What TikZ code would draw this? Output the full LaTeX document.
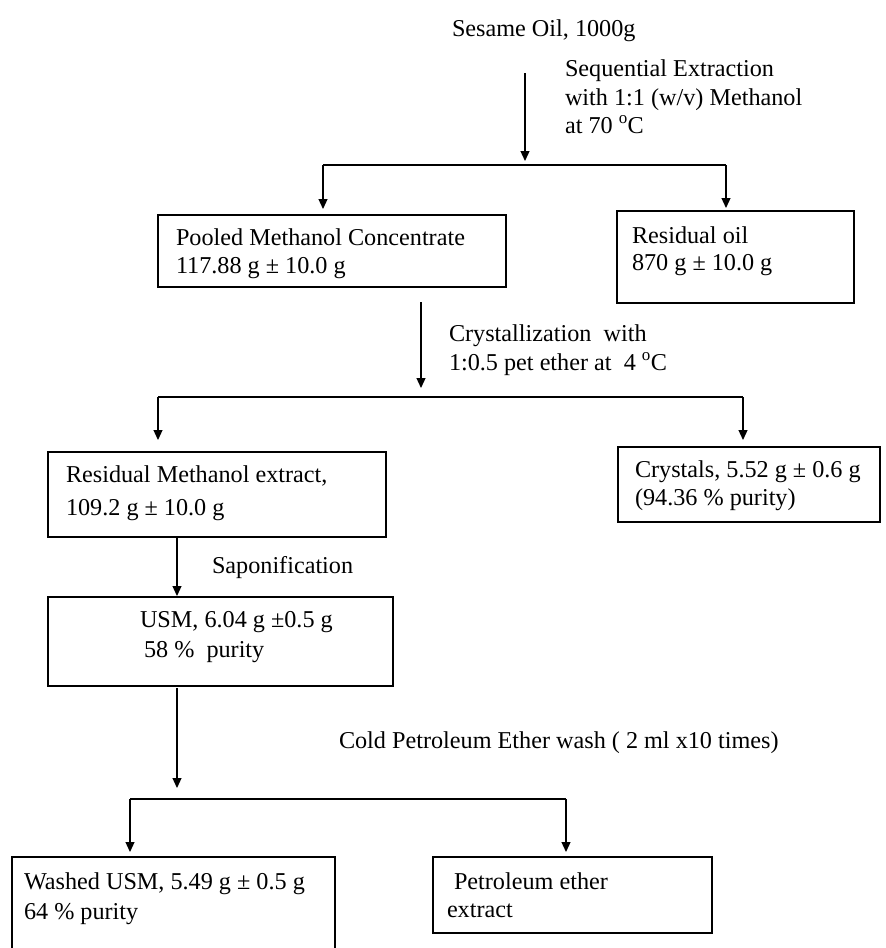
\documentclass[tikz,border=0pt]{standalone}
\usepackage{fontspec}
\setmainfont{Liberation Serif}
\usetikzlibrary{arrows.meta}
\begin{document}
\begin{tikzpicture}[x=1pt,y=-1pt,
  box/.style={draw, line width=1.4pt, inner sep=0pt, outer sep=0pt, anchor=north west},
  txt/.style={anchor=base west, inner sep=0pt, outer sep=0pt, font=\fontsize{24.2}{28}\selectfont},
  ln/.style={line width=1.2pt},
  arr/.style={ln, -{Triangle[length=10pt,width=9pt]}}]
\useasboundingbox (0,0) rectangle (886,948);
\clip (0,0) rectangle (886,948);
\fill[white] (0,0) rectangle (886,948);

% boxes
\node[box, minimum width=348pt, minimum height=72pt] (pooled) at (158,215) {};
\node[box, minimum width=237pt, minimum height=92pt] (resoil) at (617,211) {};
\node[box, minimum width=338pt, minimum height=85pt] (resmeth) at (48,452) {};
\node[box, minimum width=262pt, minimum height=75pt] (cryst) at (618,447) {};
\node[box, minimum width=345pt, minimum height=89pt] (usm) at (48,597) {};
\node[box, minimum width=323pt, minimum height=110pt] (washed) at (12,857) {};
\node[box, minimum width=279pt, minimum height=76pt] (pet) at (433,857) {};

% texts
\node[txt] (sesame) at (452,36) {Sesame Oil, 1000g};
\node[txt] (seqA) at (565,76) {Sequential Extraction};
\node[txt] (seqB) at (565,105) {with 1:1 (w/v) Methanol};
\node[txt] (seqC) at (565,133) {at 70 \textsuperscript{o}C};
\node[txt] (pooledA) at (176,245) {Pooled Methanol Concentrate};
\node[txt] (pooledB) at (176,273) {117.88 g ± 10.0 g};
\node[txt] (resoilA) at (632,243) {Residual oil};
\node[txt] (resoilB) at (632,270) {870 g ± 10.0 g};
\node[txt] (crysA) at (449,341) {Crystallization\ \ with};
\node[txt] (crysB) at (449,370) {1:0.5 pet ether at\ \ 4 \textsuperscript{o}C};
\node[txt] (resmethA) at (66,482) {Residual Methanol extract,};
\node[txt] (resmethB) at (66,515) {109.2 g ± 10.0 g};
\node[txt] (crystA) at (635,477) {Crystals, 5.52 g ± 0.6 g};
\node[txt] (crystB) at (635,505) {(94.36 \% purity)};
\node[txt] (sapon) at (212,573) {Saponification};
\node[txt] (usmA) at (140,627) {USM, 6.04 g ±0.5 g};
\node[txt] (usmB) at (144,657) {58 \%\ \ purity};
\node[txt] (cold) at (339,748) {Cold Petroleum Ether wash ( 2 ml x10 times)};
\node[txt] (washedA) at (24,889) {Washed USM, 5.49 g ± 0.5 g};
\node[txt] (washedB) at (24,919) {64 \% purity};
\node[txt] (petA) at (454,889) {Petroleum ether};
\node[txt] (petB) at (447,917) {extract};

% connectors: level 1
\coordinate (a1s) at (525,73);
\coordinate (j1) at (525,165);
\coordinate (j1L) at (323,165);
\coordinate (j1R) at (726,165);
\draw[arr, shorten >=4pt] (a1s) -- (j1);
\draw[ln] (j1L) -- (j1R);
\draw[arr, shorten >=6pt] (j1L) -- (j1L |- pooled.north);
\draw[arr, shorten >=3pt] (j1R) -- (j1R |- resoil.north);

% level 2
\coordinate (a2s) at (421,302);
\coordinate (j2) at (421,397);
\coordinate (j2L) at (158,397);
\coordinate (j2R) at (743,397);
\draw[arr, shorten >=9pt] (a2s) -- (j2);
\draw[ln] (j2L) -- (j2R);
\draw[arr, shorten >=12pt] (j2L) -- (j2L |- resmeth.north);
\draw[arr, shorten >=7pt] (j2R) -- (j2R |- cryst.north);

% level 3
\coordinate (a3x) at (177,0);
\draw[arr, shorten >=1pt] (resmeth.south -| a3x) -- (usm.north -| a3x);

% level 4
\coordinate (j4) at (177,799);
\coordinate (j4L) at (130,799);
\coordinate (j4R) at (566,799);
\draw[arr, shorten <=2pt, shorten >=11pt] (usm.south -| j4) -- (j4);
\draw[ln] (j4L) -- (j4R);
\draw[arr, shorten >=5pt] (j4L) -- (j4L |- washed.north);
\draw[arr, shorten >=5pt] (j4R) -- (j4R |- pet.north);
\end{tikzpicture}
\end{document}
